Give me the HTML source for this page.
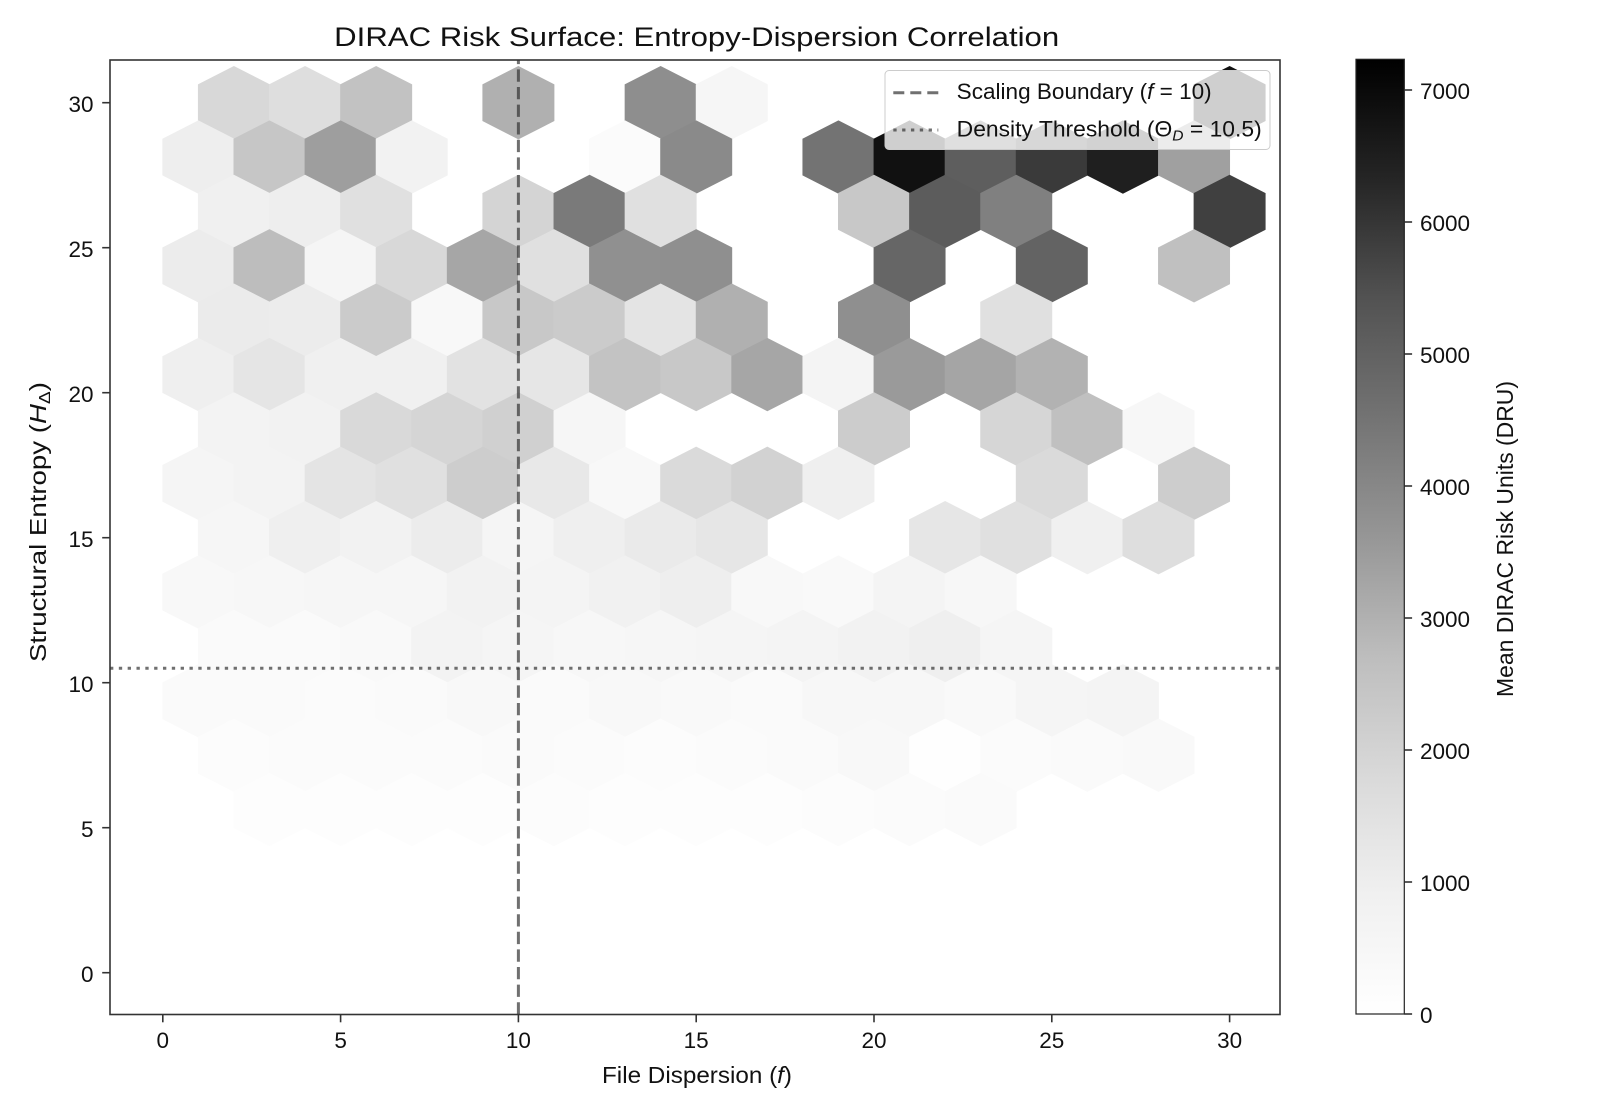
<!DOCTYPE html>
<html>
<head>
<meta charset="utf-8">
<style>
  html,body{margin:0;padding:0;background:#fff;}
  svg{display:block;font-family:"Liberation Sans","DejaVu Sans",sans-serif;}
</style>
</head>
<body>
<svg width="1600" height="1120" viewBox="0 0 1600 1120" xmlns="http://www.w3.org/2000/svg">
<defs>
  <path id="h" d="M1.012,-0.633L1.012,0.633L0,1.265L-1.012,0.633L-1.012,-0.633L0,-1.265Z"/>
  <linearGradient id="cb" x1="0" y1="1" x2="0" y2="0">
    <stop offset="0" stop-color="#ffffff"/>
    <stop offset="0.125" stop-color="#f0f0f0"/>
    <stop offset="0.25" stop-color="#d9d9d9"/>
    <stop offset="0.375" stop-color="#bdbdbd"/>
    <stop offset="0.5" stop-color="#969696"/>
    <stop offset="0.625" stop-color="#737373"/>
    <stop offset="0.75" stop-color="#525252"/>
    <stop offset="0.875" stop-color="#252525"/>
    <stop offset="1" stop-color="#000000"/>
  </linearGradient>
  <clipPath id="ax"><rect x="110" y="60" width="1170" height="954.5"/></clipPath>
</defs>
<rect width="1600" height="1120" fill="#fff"/>

<g clip-path="url(#ax)">
<g transform="translate(162.8,972.7) scale(35.56,-29)">
  <!-- v=30 -->
  <use href="#h" x="2" y="30" fill="#d8d8d8"/>
  <use href="#h" x="4" y="30" fill="#dedede"/>
  <use href="#h" x="6" y="30" fill="#c2c2c2"/>
  <use href="#h" x="10" y="30" fill="#b0b0b0"/>
  <use href="#h" x="14" y="30" fill="#8e8e8e"/>
  <use href="#h" x="16" y="30" fill="#f6f6f6"/>
  <use href="#h" x="30" y="30" fill="#111111"/>
  <!-- v=28.125 -->
  <use href="#h" x="1" y="28.125" fill="#eeeeee"/>
  <use href="#h" x="3" y="28.125" fill="#c6c6c6"/>
  <use href="#h" x="5" y="28.125" fill="#9e9e9e"/>
  <use href="#h" x="7" y="28.125" fill="#f2f2f2"/>
  <use href="#h" x="13" y="28.125" fill="#fbfbfb"/>
  <use href="#h" x="15" y="28.125" fill="#8a8a8a"/>
  <use href="#h" x="19" y="28.125" fill="#737373"/>
  <use href="#h" x="21" y="28.125" fill="#111111"/>
  <use href="#h" x="23" y="28.125" fill="#5e5e5e"/>
  <use href="#h" x="25" y="28.125" fill="#3a3a3a"/>
  <use href="#h" x="27" y="28.125" fill="#1f1f1f"/>
  <use href="#h" x="29" y="28.125" fill="#a0a0a0"/>
  <!-- v=26.25 -->
  <use href="#h" x="2" y="26.25" fill="#f0f0f0"/>
  <use href="#h" x="4" y="26.25" fill="#eeeeee"/>
  <use href="#h" x="6" y="26.25" fill="#e0e0e0"/>
  <use href="#h" x="10" y="26.25" fill="#d4d4d4"/>
  <use href="#h" x="12" y="26.25" fill="#7a7a7a"/>
  <use href="#h" x="14" y="26.25" fill="#e0e0e0"/>
  <use href="#h" x="20" y="26.25" fill="#c8c8c8"/>
  <use href="#h" x="22" y="26.25" fill="#5c5c5c"/>
  <use href="#h" x="24" y="26.25" fill="#808080"/>
  <use href="#h" x="30" y="26.25" fill="#404040"/>
  <!-- v=24.375 -->
  <use href="#h" x="1" y="24.375" fill="#ececec"/>
  <use href="#h" x="3" y="24.375" fill="#bdbdbd"/>
  <use href="#h" x="5" y="24.375" fill="#f5f5f5"/>
  <use href="#h" x="7" y="24.375" fill="#d8d8d8"/>
  <use href="#h" x="9" y="24.375" fill="#a6a6a6"/>
  <use href="#h" x="11" y="24.375" fill="#e0e0e0"/>
  <use href="#h" x="13" y="24.375" fill="#909090"/>
  <use href="#h" x="15" y="24.375" fill="#8f8f8f"/>
  <use href="#h" x="21" y="24.375" fill="#666666"/>
  <use href="#h" x="25" y="24.375" fill="#636363"/>
  <use href="#h" x="29" y="24.375" fill="#c0c0c0"/>
  <!-- v=22.5 -->
  <use href="#h" x="2" y="22.5" fill="#ebebeb"/>
  <use href="#h" x="4" y="22.5" fill="#ececec"/>
  <use href="#h" x="6" y="22.5" fill="#cbcbcb"/>
  <use href="#h" x="8" y="22.5" fill="#f8f8f8"/>
  <use href="#h" x="10" y="22.5" fill="#c8c8c8"/>
  <use href="#h" x="12" y="22.5" fill="#cbcbcb"/>
  <use href="#h" x="14" y="22.5" fill="#e4e4e4"/>
  <use href="#h" x="16" y="22.5" fill="#b0b0b0"/>
  <use href="#h" x="20" y="22.5" fill="#8f8f8f"/>
  <use href="#h" x="24" y="22.5" fill="#e0e0e0"/>
  <!-- v=20.625 -->
  <use href="#h" x="1" y="20.625" fill="#efefef"/>
  <use href="#h" x="3" y="20.625" fill="#e5e5e5"/>
  <use href="#h" x="5" y="20.625" fill="#f0f0f0"/>
  <use href="#h" x="7" y="20.625" fill="#f0f0f0"/>
  <use href="#h" x="9" y="20.625" fill="#e2e2e2"/>
  <use href="#h" x="11" y="20.625" fill="#e6e6e6"/>
  <use href="#h" x="13" y="20.625" fill="#c3c3c3"/>
  <use href="#h" x="15" y="20.625" fill="#c8c8c8"/>
  <use href="#h" x="17" y="20.625" fill="#a6a6a6"/>
  <use href="#h" x="19" y="20.625" fill="#f4f4f4"/>
  <use href="#h" x="21" y="20.625" fill="#9a9a9a"/>
  <use href="#h" x="23" y="20.625" fill="#a5a5a5"/>
  <use href="#h" x="25" y="20.625" fill="#b2b2b2"/>
  <!-- v=18.75 -->
  <use href="#h" x="2" y="18.75" fill="#f3f3f3"/>
  <use href="#h" x="4" y="18.75" fill="#f2f2f2"/>
  <use href="#h" x="6" y="18.75" fill="#d9d9d9"/>
  <use href="#h" x="8" y="18.75" fill="#d5d5d5"/>
  <use href="#h" x="10" y="18.75" fill="#d0d0d0"/>
  <use href="#h" x="12" y="18.75" fill="#f6f6f6"/>
  <use href="#h" x="20" y="18.75" fill="#cccccc"/>
  <use href="#h" x="24" y="18.75" fill="#d6d6d6"/>
  <use href="#h" x="26" y="18.75" fill="#c0c0c0"/>
  <use href="#h" x="28" y="18.75" fill="#f7f7f7"/>
  <!-- v=16.875 -->
  <use href="#h" x="1" y="16.875" fill="#f5f5f5"/>
  <use href="#h" x="3" y="16.875" fill="#f3f3f3"/>
  <use href="#h" x="5" y="16.875" fill="#e4e4e4"/>
  <use href="#h" x="7" y="16.875" fill="#e0e0e0"/>
  <use href="#h" x="9" y="16.875" fill="#cdcdcd"/>
  <use href="#h" x="11" y="16.875" fill="#e8e8e8"/>
  <use href="#h" x="13" y="16.875" fill="#f8f8f8"/>
  <use href="#h" x="15" y="16.875" fill="#dadada"/>
  <use href="#h" x="17" y="16.875" fill="#d2d2d2"/>
  <use href="#h" x="19" y="16.875" fill="#efefef"/>
  <use href="#h" x="25" y="16.875" fill="#dadada"/>
  <use href="#h" x="29" y="16.875" fill="#cdcdcd"/>
  <!-- v=15 -->
  <use href="#h" x="2" y="15" fill="#f6f6f6"/>
  <use href="#h" x="4" y="15" fill="#efefef"/>
  <use href="#h" x="6" y="15" fill="#f2f2f2"/>
  <use href="#h" x="8" y="15" fill="#ececec"/>
  <use href="#h" x="10" y="15" fill="#f5f5f5"/>
  <use href="#h" x="12" y="15" fill="#efefef"/>
  <use href="#h" x="14" y="15" fill="#eaeaea"/>
  <use href="#h" x="16" y="15" fill="#e6e6e6"/>
  <use href="#h" x="22" y="15" fill="#e6e6e6"/>
  <use href="#h" x="24" y="15" fill="#e0e0e0"/>
  <use href="#h" x="26" y="15" fill="#f0f0f0"/>
  <use href="#h" x="28" y="15" fill="#dedede"/>
  <!-- v=13.125 -->
  <use href="#h" x="1" y="13.125" fill="#f8f8f8"/>
  <use href="#h" x="3" y="13.125" fill="#f7f7f7"/>
  <use href="#h" x="5" y="13.125" fill="#f6f6f6"/>
  <use href="#h" x="7" y="13.125" fill="#f6f6f6"/>
  <use href="#h" x="9" y="13.125" fill="#f2f2f2"/>
  <use href="#h" x="11" y="13.125" fill="#f4f4f4"/>
  <use href="#h" x="13" y="13.125" fill="#f1f1f1"/>
  <use href="#h" x="15" y="13.125" fill="#eeeeee"/>
  <use href="#h" x="17" y="13.125" fill="#f8f8f8"/>
  <use href="#h" x="19" y="13.125" fill="#f9f9f9"/>
  <use href="#h" x="21" y="13.125" fill="#f4f4f4"/>
  <use href="#h" x="23" y="13.125" fill="#f7f7f7"/>
  <!-- v=11.25 -->
  <use href="#h" x="2" y="11.25" fill="#fafafa"/>
  <use href="#h" x="4" y="11.25" fill="#fafafa"/>
  <use href="#h" x="6" y="11.25" fill="#f9f9f9"/>
  <use href="#h" x="8" y="11.25" fill="#f3f3f3"/>
  <use href="#h" x="10" y="11.25" fill="#f5f5f5"/>
  <use href="#h" x="12" y="11.25" fill="#f7f7f7"/>
  <use href="#h" x="14" y="11.25" fill="#f6f6f6"/>
  <use href="#h" x="16" y="11.25" fill="#f5f5f5"/>
  <use href="#h" x="18" y="11.25" fill="#f4f4f4"/>
  <use href="#h" x="20" y="11.25" fill="#f2f2f2"/>
  <use href="#h" x="22" y="11.25" fill="#efefef"/>
  <use href="#h" x="24" y="11.25" fill="#f5f5f5"/>
  <!-- v=9.375 -->
  <use href="#h" x="1" y="9.375" fill="#fafafa"/>
  <use href="#h" x="3" y="9.375" fill="#fafafa"/>
  <use href="#h" x="5" y="9.375" fill="#fbfbfb"/>
  <use href="#h" x="7" y="9.375" fill="#fafafa"/>
  <use href="#h" x="9" y="9.375" fill="#f8f8f8"/>
  <use href="#h" x="11" y="9.375" fill="#fafafa"/>
  <use href="#h" x="13" y="9.375" fill="#f8f8f8"/>
  <use href="#h" x="15" y="9.375" fill="#f9f9f9"/>
  <use href="#h" x="17" y="9.375" fill="#fafafa"/>
  <use href="#h" x="19" y="9.375" fill="#f7f7f7"/>
  <use href="#h" x="21" y="9.375" fill="#f7f7f7"/>
  <use href="#h" x="23" y="9.375" fill="#f9f9f9"/>
  <use href="#h" x="25" y="9.375" fill="#f5f5f5"/>
  <use href="#h" x="27" y="9.375" fill="#f4f4f4"/>
  <!-- v=7.5 -->
  <use href="#h" x="2" y="7.5" fill="#fcfcfc"/>
  <use href="#h" x="4" y="7.5" fill="#fbfbfb"/>
  <use href="#h" x="6" y="7.5" fill="#fbfbfb"/>
  <use href="#h" x="8" y="7.5" fill="#fbfbfb"/>
  <use href="#h" x="10" y="7.5" fill="#fafafa"/>
  <use href="#h" x="12" y="7.5" fill="#fbfbfb"/>
  <use href="#h" x="14" y="7.5" fill="#fcfcfc"/>
  <use href="#h" x="16" y="7.5" fill="#fbfbfb"/>
  <use href="#h" x="18" y="7.5" fill="#fafafa"/>
  <use href="#h" x="20" y="7.5" fill="#f8f8f8"/>
  <use href="#h" x="22" y="7.5" fill="#fefefe"/>
  <use href="#h" x="24" y="7.5" fill="#fbfbfb"/>
  <use href="#h" x="26" y="7.5" fill="#fafafa"/>
  <use href="#h" x="28" y="7.5" fill="#f9f9f9"/>
  <!-- v=5.625 -->
  <use href="#h" x="3" y="5.625" fill="#fdfdfd"/>
  <use href="#h" x="5" y="5.625" fill="#fdfdfd"/>
  <use href="#h" x="7" y="5.625" fill="#fdfdfd"/>
  <use href="#h" x="9" y="5.625" fill="#fdfdfd"/>
  <use href="#h" x="11" y="5.625" fill="#fcfcfc"/>
  <use href="#h" x="13" y="5.625" fill="#fdfdfd"/>
  <use href="#h" x="15" y="5.625" fill="#fdfdfd"/>
  <use href="#h" x="17" y="5.625" fill="#fdfdfd"/>
  <use href="#h" x="19" y="5.625" fill="#fcfcfc"/>
  <use href="#h" x="21" y="5.625" fill="#fbfbfb"/>
  <use href="#h" x="23" y="5.625" fill="#fafafa"/>
</g>

<!-- reference lines -->
<line x1="518.4" y1="1014.5" x2="518.4" y2="60" stroke="#333" stroke-opacity="0.7" stroke-width="3" stroke-dasharray="12.3 5.3"/>
<line x1="110" y1="668.2" x2="1280" y2="668.2" stroke="#333" stroke-opacity="0.7" stroke-width="3" stroke-dasharray="3.33 5.5"/>
</g>

<!-- spines -->
<rect x="110" y="60" width="1170" height="954.5" fill="none" stroke="#333" stroke-width="1.6"/>

<!-- x ticks -->
<g stroke="#333" stroke-width="1.6">
  <line x1="162.8" y1="1014.5" x2="162.8" y2="1022.3"/>
  <line x1="340.6" y1="1014.5" x2="340.6" y2="1022.3"/>
  <line x1="518.4" y1="1014.5" x2="518.4" y2="1022.3"/>
  <line x1="696.2" y1="1014.5" x2="696.2" y2="1022.3"/>
  <line x1="874" y1="1014.5" x2="874" y2="1022.3"/>
  <line x1="1051.8" y1="1014.5" x2="1051.8" y2="1022.3"/>
  <line x1="1229.6" y1="1014.5" x2="1229.6" y2="1022.3"/>
  <!-- y ticks -->
  <line x1="102.2" y1="972.7" x2="110" y2="972.7"/>
  <line x1="102.2" y1="827.7" x2="110" y2="827.7"/>
  <line x1="102.2" y1="682.7" x2="110" y2="682.7"/>
  <line x1="102.2" y1="537.7" x2="110" y2="537.7"/>
  <line x1="102.2" y1="392.7" x2="110" y2="392.7"/>
  <line x1="102.2" y1="247.7" x2="110" y2="247.7"/>
  <line x1="102.2" y1="102.7" x2="110" y2="102.7"/>
</g>
<g font-size="22.5" fill="#111" text-anchor="middle">
  <text x="162.8" y="1048">0</text>
  <text x="340.6" y="1048">5</text>
  <text x="518.4" y="1048">10</text>
  <text x="696.2" y="1048">15</text>
  <text x="874" y="1048">20</text>
  <text x="1051.8" y="1048">25</text>
  <text x="1229.6" y="1048">30</text>
</g>
<g font-size="22.5" fill="#111" text-anchor="end">
  <text x="93.5" y="982">0</text>
  <text x="93.5" y="837">5</text>
  <text x="93.5" y="692">10</text>
  <text x="93.5" y="547">15</text>
  <text x="93.5" y="402">20</text>
  <text x="93.5" y="257">25</text>
  <text x="93.5" y="112">30</text>
</g>

<!-- axis labels & title -->
<text x="696.7" y="46" font-size="27" fill="#111" text-anchor="middle" textLength="725" lengthAdjust="spacingAndGlyphs">DIRAC Risk Surface: Entropy-Dispersion Correlation</text>
<text x="697" y="1083" font-size="23" fill="#111" text-anchor="middle" textLength="190" lengthAdjust="spacingAndGlyphs">File Dispersion (<tspan font-style="italic">f</tspan>)</text>
<text transform="translate(46,522) rotate(-90)" font-size="23" fill="#111" text-anchor="middle" textLength="280" lengthAdjust="spacingAndGlyphs">Structural Entropy (<tspan font-style="italic">H</tspan><tspan font-size="16" dy="4">Δ</tspan><tspan dy="-4">)</tspan></text>

<!-- legend -->
<rect x="885" y="70.5" width="385" height="79" rx="4" ry="4" fill="#fff" fill-opacity="0.8" stroke="#cccccc" stroke-width="1"/>
<line x1="893.3" y1="92.7" x2="938.3" y2="92.7" stroke="#333" stroke-opacity="0.7" stroke-width="3" stroke-dasharray="11 6"/>
<line x1="893.3" y1="130" x2="938.3" y2="130" stroke="#333" stroke-opacity="0.7" stroke-width="3" stroke-dasharray="3.33 5.5"/>
<text x="956.7" y="99" font-size="22" fill="#111" textLength="255" lengthAdjust="spacingAndGlyphs">Scaling Boundary (<tspan font-style="italic">f</tspan> = 10)</text>
<text x="956.7" y="136.5" font-size="22" fill="#111" textLength="305" lengthAdjust="spacingAndGlyphs">Density Threshold (Θ<tspan font-style="italic" font-size="15" dy="4">D</tspan><tspan dy="-4"> = 10.5)</tspan></text>

<!-- colorbar -->
<rect x="1356" y="59.3" width="48.3" height="954.7" fill="url(#cb)" stroke="#222" stroke-width="1.2"/>
<g stroke="#333" stroke-width="1.6">
  <line x1="1404.3" y1="1014" x2="1412.1" y2="1014"/>
  <line x1="1404.3" y1="882" x2="1412.1" y2="882"/>
  <line x1="1404.3" y1="750" x2="1412.1" y2="750"/>
  <line x1="1404.3" y1="618" x2="1412.1" y2="618"/>
  <line x1="1404.3" y1="486" x2="1412.1" y2="486"/>
  <line x1="1404.3" y1="354" x2="1412.1" y2="354"/>
  <line x1="1404.3" y1="222" x2="1412.1" y2="222"/>
  <line x1="1404.3" y1="90" x2="1412.1" y2="90"/>
</g>
<g font-size="22.5" fill="#111">
  <text x="1420" y="1023">0</text>
  <text x="1420" y="891">1000</text>
  <text x="1420" y="759">2000</text>
  <text x="1420" y="627">3000</text>
  <text x="1420" y="495">4000</text>
  <text x="1420" y="363">5000</text>
  <text x="1420" y="231">6000</text>
  <text x="1420" y="99">7000</text>
</g>
<text transform="translate(1513,539) rotate(-90)" font-size="23" fill="#111" text-anchor="middle" textLength="316" lengthAdjust="spacingAndGlyphs">Mean DIRAC Risk Units (DRU)</text>
</svg>
</body>
</html>
